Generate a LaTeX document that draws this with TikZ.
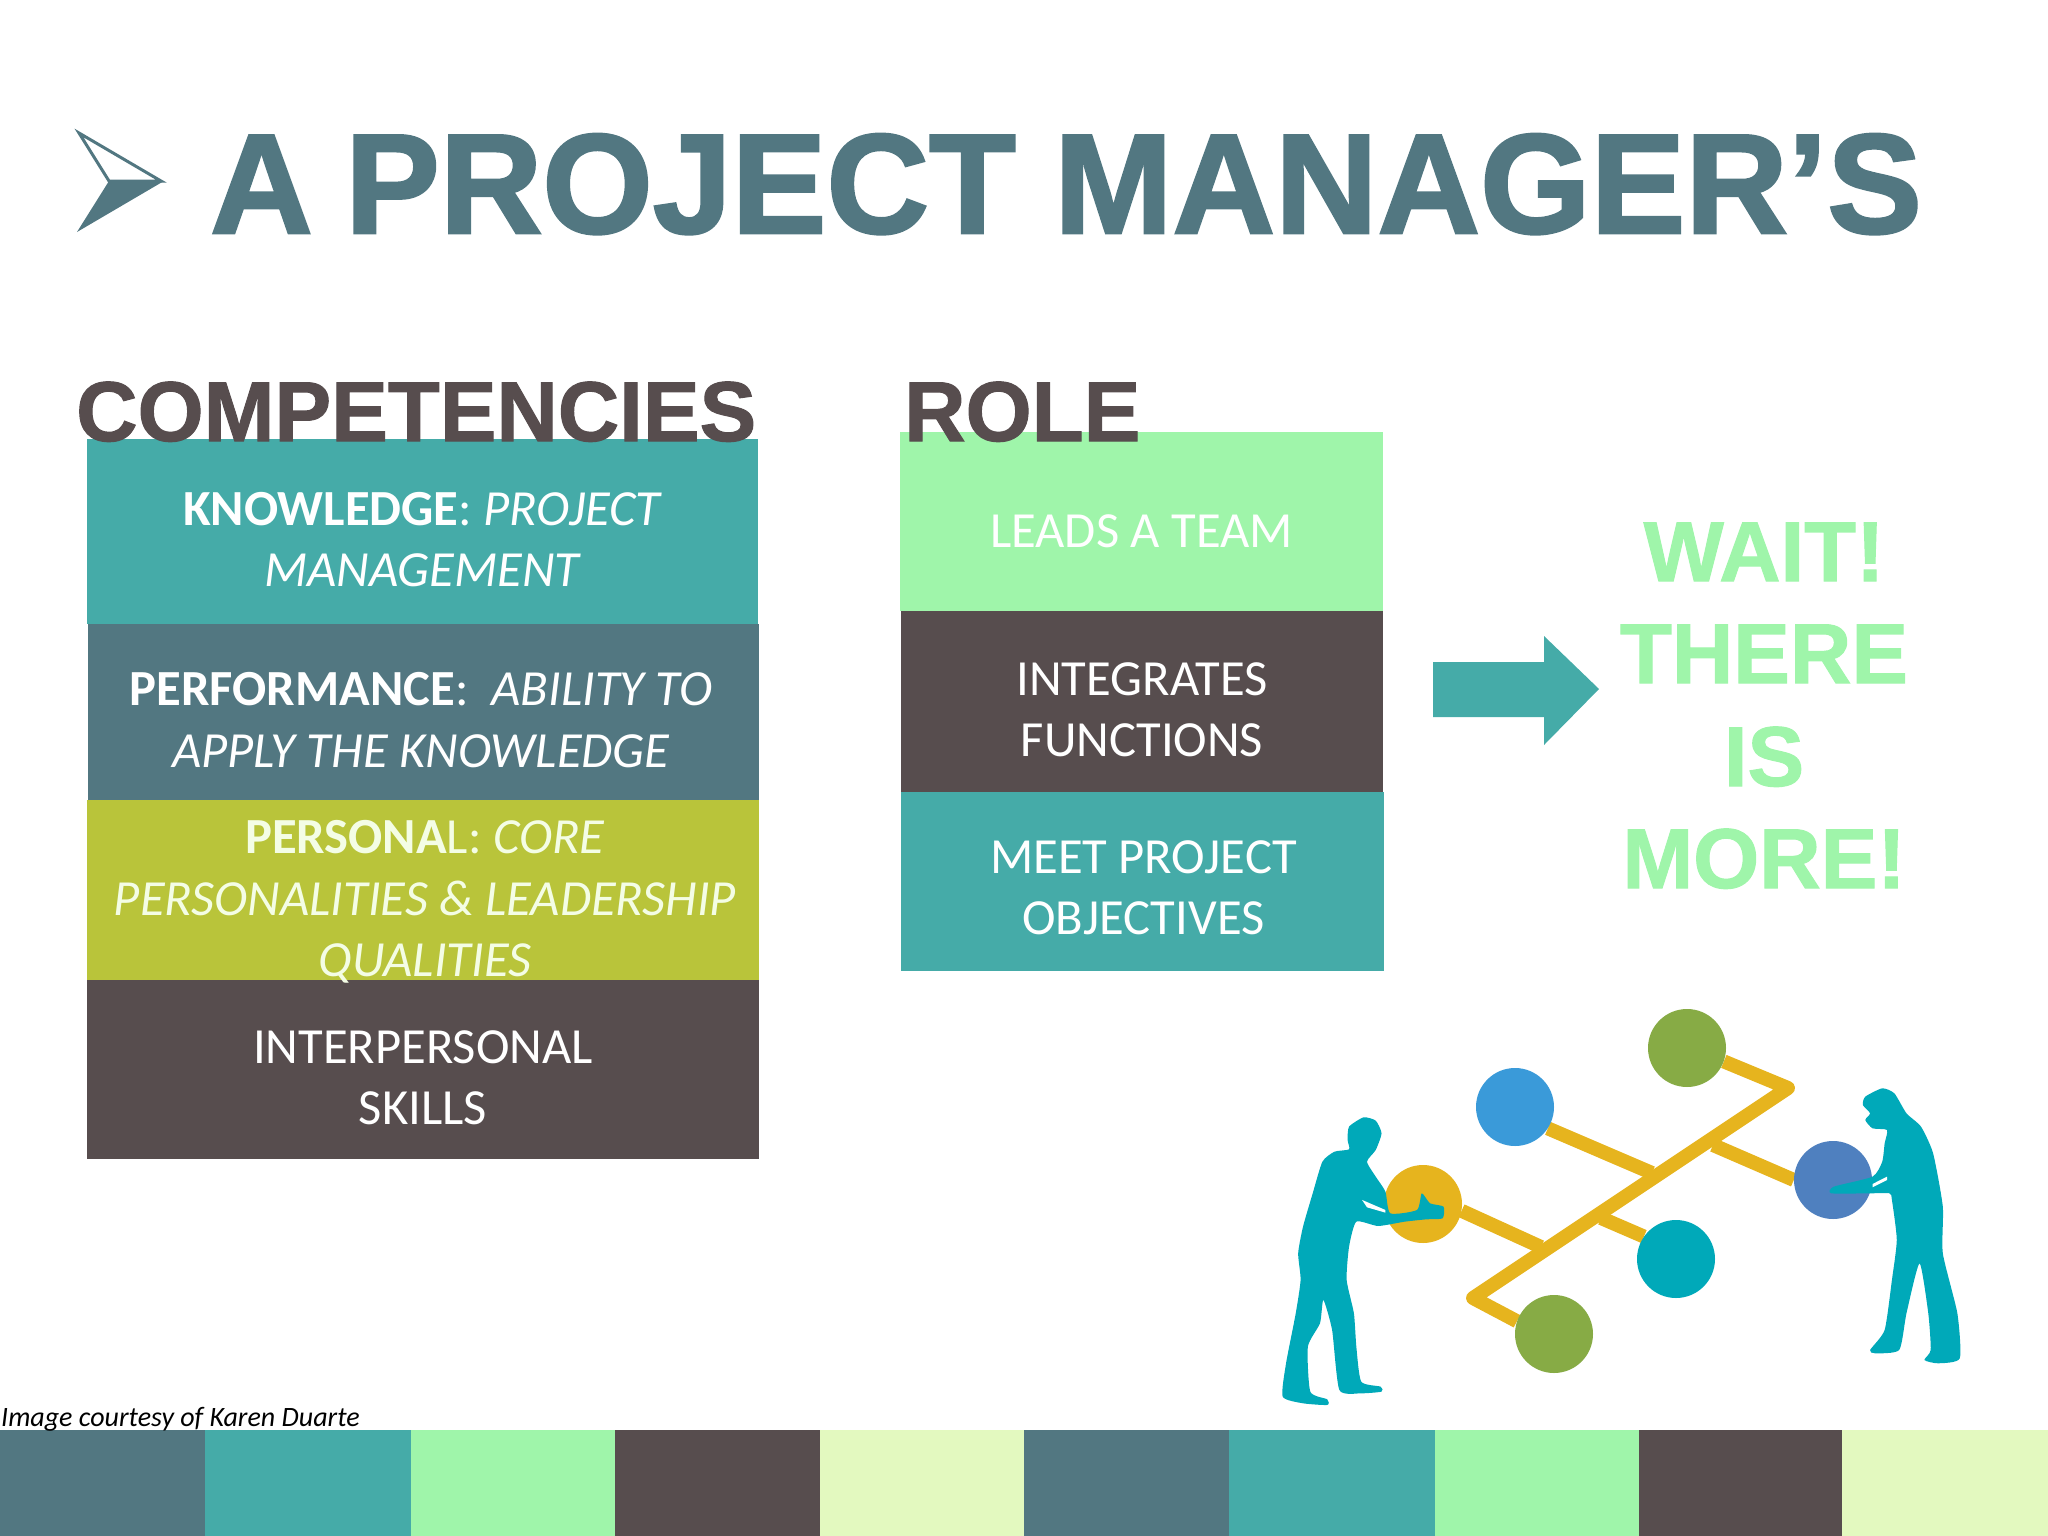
\documentclass[tikz,border=0pt]{standalone}
\usetikzlibrary{backgrounds}
\usepackage{fontspec}
\setmainfont{Carlito}
\newfontfamily\headfont[FakeBold=1.2]{Liberation Sans Bold}
\newfontfamily\titlefont[FakeBold=1.8]{Liberation Sans Bold}
\definecolor{slate}{HTML}{527781}
\definecolor{teal1}{HTML}{45ABA8}
\definecolor{mint}{HTML}{9FF5AA}
\definecolor{darkgrey}{HTML}{574D4E}
\definecolor{pale}{HTML}{E3F9BF}
\definecolor{olive1}{HTML}{B9C43A}
\definecolor{pipe}{HTML}{E6B41E}
\definecolor{figure1}{HTML}{00A9B9}
\definecolor{leaf}{HTML}{87AB45}
\definecolor{sky}{HTML}{3A9AD9}
\definecolor{dusk}{HTML}{4F80BF}
\tikzset{
    block/.style={inner sep=0pt},
    card/.style={inner sep=0pt, text=white, align=center, font=\fontsize{50.6}{61.4}\selectfont},
    heading/.style={inner sep=0pt, anchor=base west, text=darkgrey, font=\headfont\fontsize{85}{85}\selectfont},
    wait/.style={inner sep=0pt, anchor=base, text=mint, font=\headfont\fontsize{85}{85}\selectfont},
    ball/.style={circle, minimum size=78pt, inner sep=0pt},
    tube/.style={draw=pipe, line width=14pt, line join=round}
}
\begin{document}
\begin{tikzpicture}[x=1pt, y=-1pt]
    \useasboundingbox (0,0) rectangle (2048,1536);
    \foreach \xa/\xb/\col in {0/205/slate, 205/411/teal1, 411/615/mint, 615/820/darkgrey, 820/1024/pale,
        1024/1229/slate, 1229/1435/teal1, 1435/1639/mint, 1639/1842/darkgrey, 1842/2048/pale}
        \fill[\col] (\xa,1430) rectangle (\xb,1536);
    \node[anchor=base west, inner sep=0pt, font=\itshape\fontsize{28}{28}\selectfont] (credit) at (1,1426) {Image courtesy of Karen Duarte};

    \node[anchor=base west, inner sep=0pt, text=slate, font=\titlefont\fontsize{142}{142}\selectfont] (title) at (210,233) {A\hspace{-7pt} PROJECT\hspace{-1pt} MANAGER’S};
    \draw[slate, line width=3pt, line join=miter] (79,133) -- (161,181) -- (109,181) -- cycle;
    \fill[slate] (77,232) -- (109,181) -- (164,181) -- cycle;

    \node[block, fill=teal1, minimum width=671pt, minimum height=185pt] (knowledge) at (422,531.5) {};
    \node[block, fill=slate, minimum width=671pt, minimum height=176pt] (performance) at (423,712) {};
    \node[block, fill=olive1, minimum width=672pt, minimum height=180pt] (personal) at (423,890) {};
    \node[block, fill=darkgrey, minimum width=672pt, minimum height=179pt] (interpersonal) at (423,1069.5) {};
    \node[card, yshift=-8pt, xshift=1pt] (knowledgetext) at (knowledge) {\textbf{KNOWLEDGE}: \textit{PROJECT}\\\textit{MANAGEMENT}};
    \node[card, yshift=-8pt, xshift=-2pt] (performancetext) at (performance) {\textbf{PERFORMANCE}:\ \ \textit{ABILITY TO}\\\textit{APPLY THE KNOWLEDGE}};
    \node[card, yshift=-12pt, xshift=2pt, text=pale!40!white] (personaltext) at (personal) {\textbf{PERSONA}L: \textit{CORE}\\\textit{PERSONALITIES \& LEADERSHIP}\\\textit{QUALITIES}};
    \node[card, yshift=-8pt] (interpersonaltext) at (interpersonal) {INTERPERSONAL\\SKILLS};

    \node[block, fill=mint, minimum width=483pt, minimum height=179pt] (leads) at (1141.5,521.5) {};
    \node[block, fill=darkgrey, minimum width=482pt, minimum height=181pt] (integrates) at (1142,701.5) {};
    \node[block, fill=teal1, minimum width=483pt, minimum height=179pt] (meet) at (1142.5,881.5) {};
    \node[card, yshift=-10pt] (leadstext) at (leads) {LEADS A TEAM};
    \node[card, yshift=-8pt] (integratestext) at (integrates) {INTEGRATES\\FUNCTIONS};
    \node[card, yshift=-6pt, xshift=1pt] (meettext) at (meet) {MEET PROJECT\\OBJECTIVES};

    \node[heading] (competencies) at (76,441) {COMPETENCIES};
    \node[heading] (role) at (904,441) {ROLE};

    \fill[teal1] (1433,662) -- (1544,662) -- (1544,636) -- (1599,689) -- (1544,745) -- (1544,717) -- (1433,717) -- cycle;

    \node[wait] (wait1) at (1764,581) {WAIT!};
    \node[wait] (wait2) at (1764,683) {THERE};
    \node[wait] (wait3) at (1764,786) {IS};
    \node[wait] (wait4) at (1764,888) {MORE!};

    \coordinate (top) at (1788,1088);
    \coordinate (bottom) at (1473,1298);
    \coordinate (forkblue) at (1652,1173);
    \coordinate (forkyellow) at (1541,1247);
    \coordinate (forkpurple) at (1713,1145);
    \coordinate (forkteal) at (1601,1218);
    \node[ball, fill=leaf] (greentop) at (1687,1048) {};
    \node[ball, fill=sky] (blue) at (1515,1107) {};
    \node[ball, fill=pipe] (yellow) at (1423,1204) {};
    \node[ball, fill=dusk] (purple) at (1833,1180) {};
    \node[ball, fill=figure1] (tealball) at (1676,1259) {};
    \node[ball, fill=leaf] (greenbottom) at (1554,1334) {};
    \begin{scope}[on background layer]
        \draw[tube] (greentop.-20) -- (top) -- (bottom) -- (greenbottom.161);
        \draw[tube] (blue.-33) -- (forkblue);
        \draw[tube] (yellow.-10) -- (forkyellow);
        \draw[tube] (purple.west) -- (forkpurple);
        \draw[tube] (tealball.145) -- (forkteal);
    \end{scope}

    \begin{scope}[shift={(1240,980)}, x=0.4847pt, y=-0.3333pt]
        \fill[figure1] plot[smooth cycle, tension=0.35] coordinates {(255,412) (225,440) (222,480) (225,508) (195,515) (170,545)
            (150,640) (130,740) (120,820) (125,900) (115,1000) (95,1150) (88,1250) (130,1270) (180,1275) (180,1258)
            (145,1235) (140,1100) (165,1030) (172,960) (190,1050) (205,1230) (250,1240) (292,1235) (290,1220)
            (250,1205) (240,1100) (235,1000) (220,900) (225,800) (240,725) (285,738) (340,725) (385,718) (418,715) (420,680)
            (392,670) (375,640) (365,690) (310,700) (300,635) (280,590) (262,545) (280,510) (292,460) (280,422)};
        \fill[figure1] plot[smooth cycle, tension=0.35] coordinates {(1325,325) (1290,350) (1285,375) (1300,400) (1290,420) (1305,445)
            (1335,450) (1330,490) (1325,545) (1305,590) (1225,620) (1220,640) (1300,640) (1340,640) (1345,660) (1355,780)
            (1345,900) (1330,1050) (1300,1110) (1310,1120) (1360,1110) (1375,1000) (1402,850) (1420,1000) (1425,1110)
            (1412,1140) (1440,1150) (1485,1135) (1480,1000) (1450,820) (1450,680) (1430,520) (1405,440) (1375,400) (1350,340)};
        \fill[white] (1305,612) -- (1335,590) -- (1335,600) -- (1305,622) -- cycle;
        \fill[white] (252,660) -- (300,690) -- (300,698) -- (262,682) -- cycle;
    \end{scope}
\end{tikzpicture}
\end{document}
